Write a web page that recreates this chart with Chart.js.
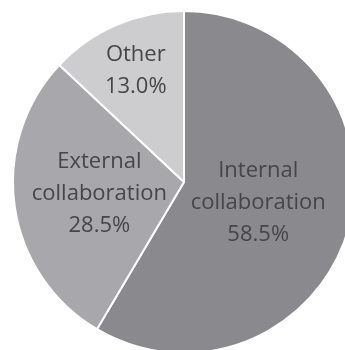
<!DOCTYPE html>
<html>
<head>
<meta charset="utf-8">
<script src="https://cdn.jsdelivr.net/npm/chart.js@4.4.1/dist/chart.umd.min.js"></script>
<style>
  html, body { margin: 0; padding: 0; background: #fff; overflow: hidden; }
  body { width: 345px; height: 350px; position: relative; }
  /* the pie is slightly larger than the page and gets cut at right and bottom */
  #wrap { position: absolute; left: 12px; top: 10px; width: 344px; height: 344px; }
</style>
</head>
<body>
<div id="wrap"><canvas id="shareChart"></canvas></div>
<script>
// Kategori dan nilai (persen)
const categories = ['Internal collaboration', 'External collaboration', 'Other'];
const labelLines = [['Internal', 'collaboration'], ['External', 'collaboration'], ['Other']];
const shares = [58.5, 28.5, 13.0];
const sliceColors = ['#8a8a8e', '#a8a8ac', '#cdcdd0'];

// Posisi label: fraksi jari-jari per irisan
const labelRadius = [0.45, 0.5, 0.71];

const sliceLabels = {
    id: 'sliceLabels',
    afterDatasetsDraw(chart) {
        const ctx = chart.ctx;
        const meta = chart.getDatasetMeta(0);
        ctx.save();
        ctx.font = '22px "Open Sans", "Noto Sans", sans-serif';
        ctx.fillStyle = '#464646';
        ctx.textAlign = 'center';
        ctx.textBaseline = 'middle';
        const lineH = 32;
        meta.data.forEach((arc, i) => {
            const p = arc.getProps(['x', 'y', 'startAngle', 'endAngle', 'outerRadius'], true);
            const mid = (p.startAngle + p.endAngle) / 2;
            const r = p.outerRadius * labelRadius[i];
            const cx = p.x + Math.cos(mid) * r;
            const cy = p.y + Math.sin(mid) * r;
            const lines = labelLines[i].concat([shares[i].toFixed(1) + '%']);
            const top = cy - (lines.length - 1) * lineH / 2;
            lines.forEach((t, k) => ctx.fillText(t, cx, top + k * lineH));
        });
        ctx.restore();
    }
};

new Chart(document.getElementById('shareChart'), {
    type: 'pie',
    data: {
        labels: categories,
        datasets: [{
            data: shares,
            backgroundColor: sliceColors,
            borderColor: '#ffffff',
            borderWidth: 2
        }]
    },
    options: {
        responsive: true,
        maintainAspectRatio: false,
        animation: false,
        layout: { padding: 0 },
        plugins: {
            legend: { display: false },
            tooltip: { enabled: false },
            title: { display: false }
        }
    },
    plugins: [sliceLabels]
});
</script>
</body>
</html>
